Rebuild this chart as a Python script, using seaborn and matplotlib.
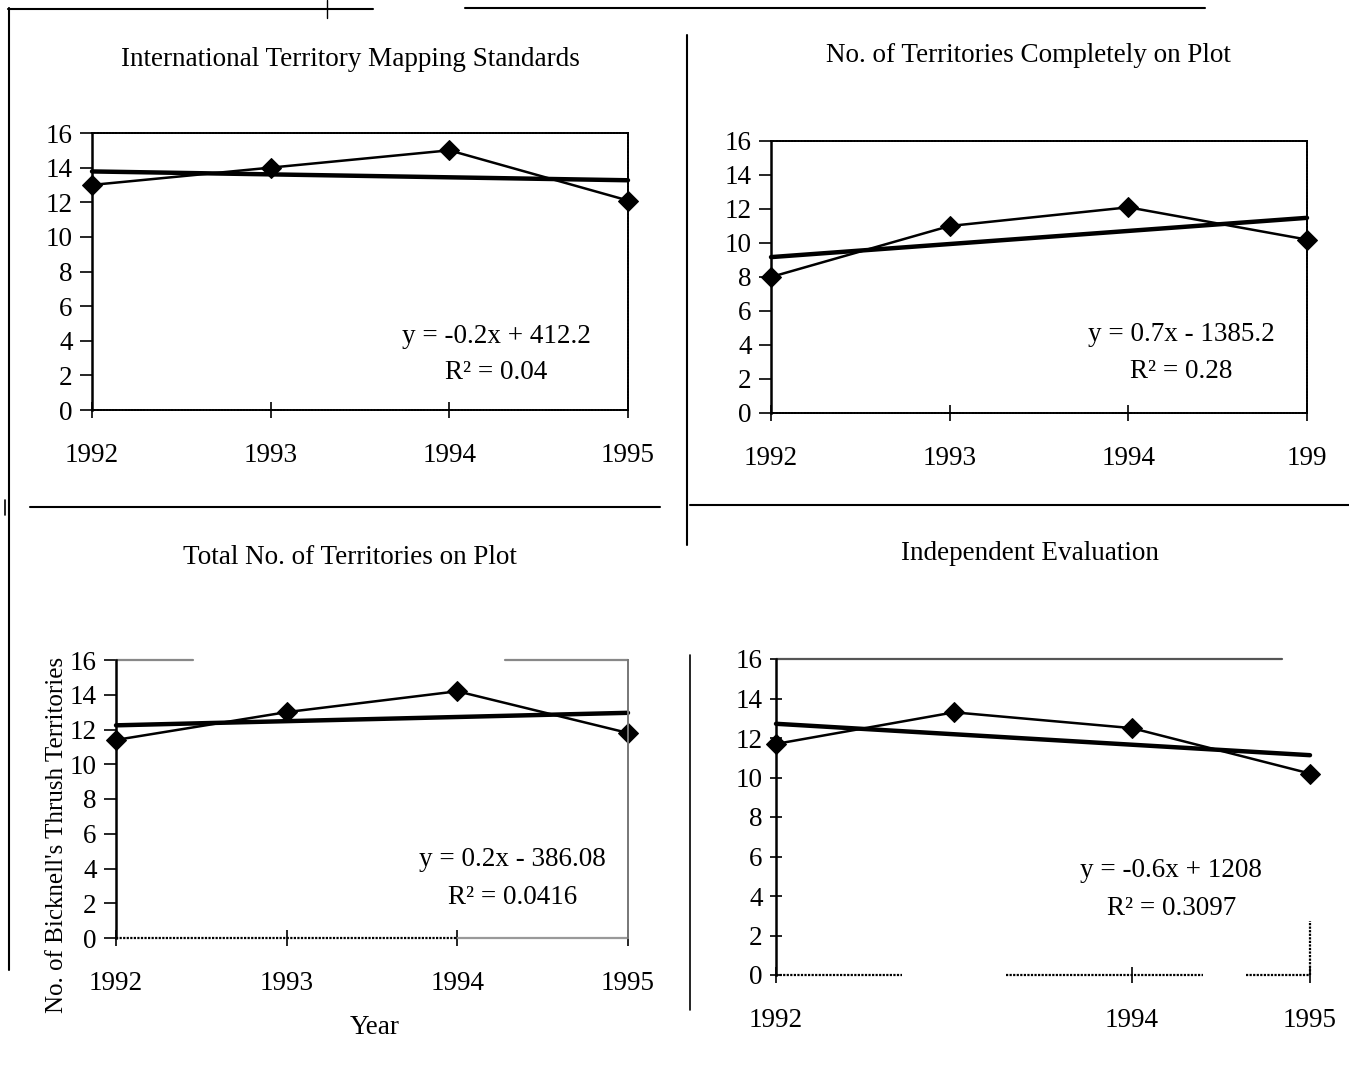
import numpy as np
import pandas as pd
import matplotlib
matplotlib.use("Agg")
import matplotlib.pyplot as plt
from matplotlib.lines import Line2D
import seaborn as sns

# ---------------- data ----------------
years = [1992, 1993, 1994, 1995]
mapping_standards = [13.0, 14.0, 15.0, 12.1]
completely_on_plot = [8.0, 11.0, 12.1, 10.2]
total_on_plot = [11.4, 13.0, 14.2, 11.8]
independent_eval = [11.7, 13.3, 12.5, 10.2]

titles = ["International Territory Mapping Standards",
          "No. of Territories Completely on Plot",
          "Total No. of Territories on Plot",
          "Independent Evaluation"]
equations = ["y = -0.2x + 412.2", "y = 0.7x - 1385.2",
             "y = 0.2x - 386.08", "y = -0.6x + 1208"]
r2_labels = ["R² = 0.04", "R² = 0.28", "R² = 0.0416", "R² = 0.3097"]
x_ticklabels = [["1992", "1993", "1994", "1995"],
                ["1992", "1993", "1994", "199"],
                ["1992", "1993", "1994", "1995"],
                ["1992", "", "1994", "1995"]]
y_ticks = [0, 2, 4, 6, 8, 10, 12, 14, 16]
y_label = "No. of Bicknell's Thrush Territories"
x_label = "Year"

# ---------------- style ----------------
sns.set_theme(style="white")
plt.rcParams["font.family"] = ["Liberation Serif", "DejaVu Serif"]
plt.rcParams["text.color"] = "black"
plt.rcParams["xtick.color"] = "black"
plt.rcParams["ytick.color"] = "black"
plt.rcParams["xtick.labelcolor"] = "black"
plt.rcParams["ytick.labelcolor"] = "black"

W, H = 1349, 1067
fig = plt.figure(figsize=(W / 100, H / 100), dpi=100)


def px_rect(l, t, r, b):
    return [l / W, 1 - b / H, (r - l) / W, (b - t) / H]


rects = [px_rect(92, 133, 628, 410), px_rect(771, 141, 1307, 413),
         px_rect(116, 660, 628, 938), px_rect(776, 659, 1310, 975)]
series = [mapping_standards, completely_on_plot, total_on_plot, independent_eval]
title_pos = [(350, 60), (1028, 55), (350, 557), (1030, 553)]
eq_pos = [(0.754, 0.267, 0.134), (0.765, 0.287, 0.154),
          (0.775, 0.281, 0.144), (0.740, 0.332, 0.209)]

TXT = 19.5
for i in range(4):
    ax = fig.add_axes(rects[i])
    df = pd.DataFrame({"year": years, "value": series[i]})
    sns.regplot(data=df, x="year", y="value", ax=ax, ci=None, scatter=False,
                truncate=True, line_kws=dict(color="black", lw=3.2, clip_on=False))
    sns.lineplot(data=df, x="year", y="value", ax=ax, color="black", lw=1.8,
                 marker="D", markersize=10, markeredgecolor="black", clip_on=False)
    ax.set_xlim(1992, 1995)
    ax.set_ylim(0, 16)
    ax.set_xticks(years)
    ax.set_xticklabels(x_ticklabels[i], fontsize=TXT)
    ax.set_yticks(y_ticks)
    ax.set_yticklabels([str(v) for v in y_ticks], fontsize=TXT)
    ax.set_xlabel("")
    ax.set_ylabel("")
    ax.tick_params(axis="x", direction="inout", length=12, width=1.2,
                   color="black", pad=18, bottom=True)
    ax.tick_params(axis="y", direction="inout" if i == 3 else "out",
                   length=9, width=1.2, color="black", pad=5, left=True)
    for s in ax.spines.values():
        s.set_color("black")
        s.set_linewidth(1.4)
    ax.spines["left"].set_linewidth(1.8)
    if i in (0, 1):
        ax.spines["top"].set_linestyle((0, (1, 0.6)))
        ax.spines["right"].set_linestyle((0, (1, 0.6)))
        ax.spines["bottom"].set_linestyle((0, (1, 0.6)))
    elif i == 2:
        ax.spines["top"].set_visible(False)
        ax.spines["right"].set_color("#777777")
        ax.spines["bottom"].set_visible(False)
        ax.plot([0, 0.15], [1, 1], transform=ax.transAxes, color="#888888", lw=1.6, clip_on=False)
        ax.plot([0.76, 1], [1, 1], transform=ax.transAxes, color="#888888", lw=1.6, clip_on=False)
        ax.plot([0, 0.667], [0, 0], transform=ax.transAxes, color="black", lw=1.6,
                ls=(0, (1, 0.6)), clip_on=False)
        ax.plot([0.667, 1], [0, 0], transform=ax.transAxes, color="#999999", lw=1.6, clip_on=False)
    else:
        ax.spines["top"].set_visible(False)
        ax.spines["right"].set_visible(False)
        ax.spines["bottom"].set_visible(False)
        ax.plot([0, 0.947], [1, 1], transform=ax.transAxes, color="#555555", lw=1.6, clip_on=False)
        ax.plot([1, 1], [0, 0.17], transform=ax.transAxes, color="black", lw=1.6,
                ls=(0, (1, 0.6)), clip_on=False)
        for a, b in [(0, 0.236), (0.43, 0.80), (0.88, 1.0)]:
            ax.plot([a, b], [0, 0], transform=ax.transAxes, color="black", lw=1.6,
                    ls=(0, (1, 0.6)), clip_on=False)
        ax.xaxis.get_major_ticks()[1].tick1line.set_visible(False)
    fx, fy1, fy2 = eq_pos[i]
    ax.text(fx, fy1, equations[i], transform=ax.transAxes, ha="center", va="center",
            fontsize=TXT, color="black")
    ax.text(fx, fy2, r2_labels[i], transform=ax.transAxes, ha="center", va="center",
            fontsize=TXT, color="black")
    tx, ty = title_pos[i]
    fig.text(tx / W, 1 - ty / H, titles[i], ha="center", va="center", fontsize=TXT, color="black")
    if i == 2:
        fig.text(57 / W, 1 - 835 / H, y_label, rotation=90, ha="center", va="center",
                 fontsize=18, color="black")
        fig.text(375 / W, 1 - 1028 / H, x_label, ha="center", va="center", fontsize=TXT,
                 color="black")


# ---------------- scan frame lines ----------------
def hline(y, x0, x1, lw=1.5, color="black"):
    fig.add_artist(Line2D([x0 / W, x1 / W], [1 - y / H, 1 - y / H], color=color, lw=lw))


def vline(x, y0, y1, lw=1.5, color="black"):
    fig.add_artist(Line2D([x / W, x / W], [1 - y0 / H, 1 - y1 / H], color=color, lw=lw))


hline(9, 8, 373)
hline(8, 465, 1205)
vline(327, 0, 18, lw=1)
vline(9, 8, 970)
vline(687, 35, 545)
hline(507, 30, 660)
hline(505, 690, 1349)
vline(5, 500, 515, lw=1.2)
vline(690, 655, 1010, lw=1.2)

fig.savefig("out.png", dpi=100, facecolor="white")
